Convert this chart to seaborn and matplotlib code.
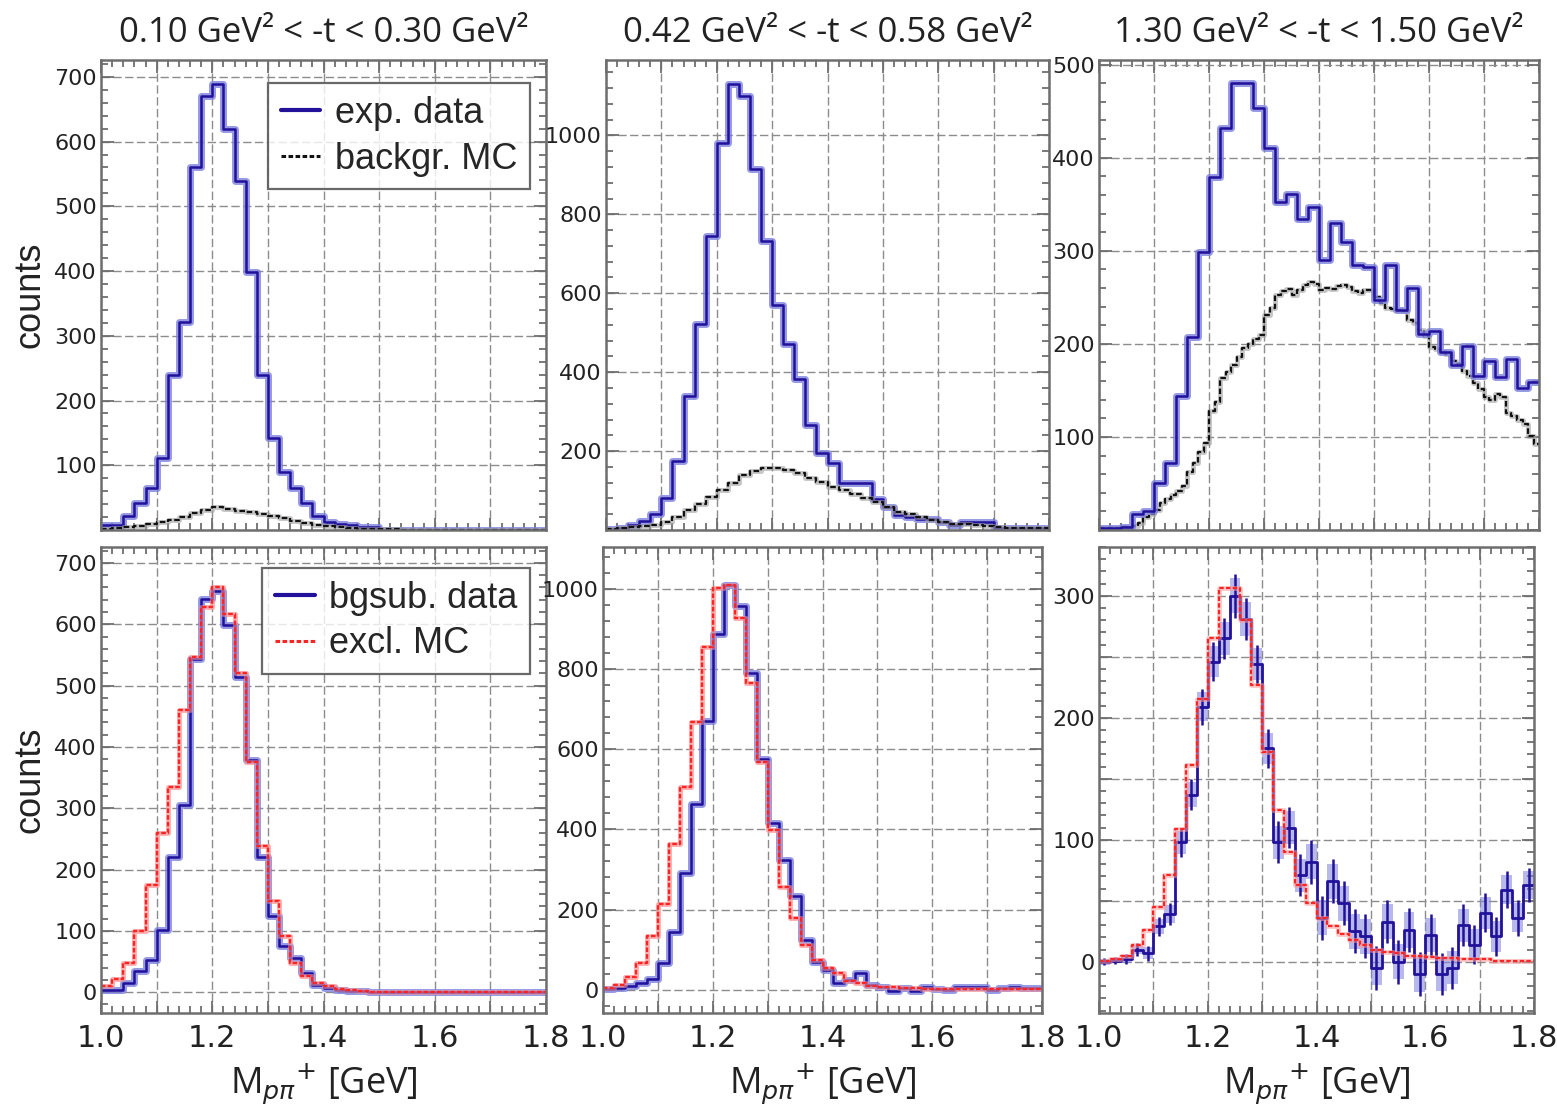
import numpy as np
import matplotlib
matplotlib.use("Agg")
import matplotlib.pyplot as plt
import seaborn as sns
from matplotlib.ticker import MultipleLocator, FuncFormatter
from matplotlib.lines import Line2D

sns.set_theme(style="white")
plt.rcParams['font.family'] = ['DejaVu Sans']
plt.rcParams['axes.unicode_minus'] = False

# ---------------- data ----------------
titles = ["0.10 GeV\u00b2 < -t < 0.30 GeV\u00b2",
          "0.42 GeV\u00b2 < -t < 0.58 GeV\u00b2",
          "1.30 GeV\u00b2 < -t < 1.50 GeV\u00b2"]
xtick_labels = ["1.0", "1.2", "1.4", "1.6", "1.8"]
xlabel = r"M$_{p\pi}$$^{+}$ [GeV]"
ylabel = "counts"
legend_top = ["exp. data", "backgr. MC"]
legend_bottom = ["bgsub. data", "excl. MC"]

edges02 = np.round(np.linspace(1.0, 1.8, 41), 3)
edges01 = np.round(np.linspace(1.0, 1.8, 81), 3)

# top row: experimental data (0.02 GeV bins) and background MC
tl_exp = [7, 7, 22, 42, 65, 111, 240, 322, 560, 671, 689, 619, 539, 399, 240, 142, 90, 65, 42, 21,
          13, 9, 7, 5, 4, 0, 0, 0, 0, 0, 0, 0, 0, 0, 0, 0, 0, 0, 0, 0]
tl_bg = [2, 3, 4, 6, 9, 12, 16, 20, 26, 31, 35, 33, 30, 28, 24, 21, 18, 14, 11, 8,
         6, 4, 3, 2, 2, 1, 1, 0, 0, 0, 0, 0, 0, 0, 0, 0, 0, 0, 0, 0]
tm_exp = [3, 6, 12, 22, 40, 82, 175, 340, 522, 745, 980, 1130, 1100, 916, 732, 571, 472, 382, 266, 194,
          170, 119, 118, 118, 78, 58, 37, 33, 29, 29, 20, 12, 20, 20, 20, 6, 5, 5, 5, 5]
tm_bg = [3, 5, 8, 10, 12, 20, 33, 50, 67, 84, 101, 120, 139, 150, 156, 158, 152, 145, 133, 122,
         109, 101, 91, 82, 71, 58, 46, 40, 33, 26, 20, 16, 14, 12, 9, 8, 6, 5, 4, 4]
tr_exp = [2, 2, 3, 17, 20, 51, 72, 144, 207, 299, 379, 432, 480, 480, 453, 410, 352, 361, 334, 347,
          290, 330, 309, 285, 283, 247, 285, 236, 260, 211, 214, 191, 177, 198, 166, 182, 164, 184, 153, 159]
tr_bg = [2, 2, 2, 2, 3, 3, 4, 7, 14, 17, 22, 29, 33, 38, 42, 47, 62, 72, 84, 94,
         128, 138, 163, 170, 177, 186, 196, 200, 205, 210, 231, 238, 252, 257, 259, 252, 258, 263, 266, 264,
         258, 260, 259, 262, 263, 261, 257, 255, 258, 258, 250, 244, 239, 237, 236, 235, 226, 222, 215, 208,
         197, 194, 191, 189, 182, 178, 171, 166, 158, 152, 143, 140, 146, 143, 126, 122, 118, 114, 101, 92]

# bottom row: background-subtracted data and exclusive MC (0.02 GeV bins)
bl_exp = [4, 4, 15, 34, 53, 102, 221, 305, 544, 642, 655, 598, 514, 379, 221, 124, 75, 56, 31, 12,
          7, 4, 2, 2, 1, 0, 0, 0, 0, 0, 0, 0, 0, 0, 0, 0, 0, 0, 0, 0]
bl_mc = [10, 21, 48, 99, 175, 259, 335, 460, 547, 628, 661, 617, 520, 376, 238, 148, 91, 48, 26, 15,
         10, 5, 3, 2, 1, 0, 0, 0, 0, 0, 0, 0, 0, 0, 0, 0, 0, 0, 0, 0]
bm_exp = [2, 4, 10, 17, 27, 66, 145, 290, 464, 671, 886, 1010, 957, 791, 576, 416, 323, 234, 124, 70,
          50, 18, 25, 41, 12, 8, -4, 4, -4, 8, 2, 0, 7, 7, 6, 0, 4, 7, 4, 4]
bm_mc = [4, 12, 33, 66, 133, 215, 364, 505, 667, 855, 1002, 1010, 928, 766, 567, 398, 257, 178, 112, 75,
         54, 41, 21, 17, 10, 8, 7, 4, 4, 2, 2, 2, 1, 1, 1, 1, 1, 1, 1, 1]
br_exp = [0, 1, 2, 10, 7, 29, 39, 98, 137, 209, 246, 265, 300, 281, 244, 175, 98, 110, 71, 82,
          36, 66, 48, 25, 21, -5, 33, 0, 26, -10, 22, -10, -5, 30, 14, 40, 21, 59, 36, 63]
br_err = [3, 3, 4, 5, 6, 8, 9, 12, 13, 15, 16, 17, 18, 17, 16, 16, 17, 17, 17, 18,
          18, 18, 18, 18, 18, 18, 18, 18, 18, 18, 17, 17, 17, 17, 16, 16, 16, 15, 15, 14]
br_mc = [1, 2, 5, 14, 26, 45, 71, 109, 161, 215, 265, 306, 306, 280, 227, 172, 124, 90, 63, 48,
         36, 29, 23, 18, 14, 10, 8, 7, 5, 5, 4, 3, 3, 2, 2, 2, 1, 1, 1, 1]

# ---------------- style ----------------
DARK = '#22119a'
LIGHT = '#7c80dc'
RED = '#ff2424'
LRED = '#ff9c9c'
BLACK = '#111111'
GREY = '#8c8c8c'
SPINE = '#6e6e6e'
TXT = '#222222'

W, H = 1557, 1116
fig = plt.figure(figsize=(W / 100, H / 100), dpi=100)


def box(l, t, r, b):
    return [l / W, 1 - b / H, (r - l) / W, (b - t) / H]


pos = {
    'tl': box(101, 60, 546, 530), 'tm': box(606, 60, 1049, 530), 'tr': box(1099, 60, 1539, 530),
    'bl': box(101, 547, 546, 1013), 'bm': box(603, 547, 1042, 1013), 'br': box(1099, 547, 1534, 1013),
}
axs = {k: fig.add_axes(v) for k, v in pos.items()}


def step(ax, edges, vals, **kw):
    y = np.append(np.asarray(vals, float), vals[-1])
    sns.lineplot(x=edges, y=y, drawstyle='steps-post', ax=ax, estimator=None,
                 sort=False, legend=False, **kw)


def data_line(ax, vals):
    step(ax, edges02, vals, color=LIGHT, linewidth=5, alpha=0.8)
    step(ax, edges02, vals, color=DARK, linewidth=1.8)


def bg_line(ax, edges, vals):
    step(ax, edges, vals, color='#a0a0a0', linewidth=3.5, alpha=0.6)
    step(ax, edges, vals, color=BLACK, linewidth=1.6, linestyle=(0, (2.5, 1.2)))


def mc_line(ax, vals):
    step(ax, edges02, vals, color=LRED, linewidth=3.5, alpha=0.55)
    step(ax, edges02, vals, color=RED, linewidth=1.6, linestyle=(0, (2.0, 1.0)))


xlab_set = set(xtick_labels)


def xfmt(v, p):
    s = f'{v:.1f}'
    return s if s in xlab_set else ''


def style_axes(ax, ylim, ymaj, ymin, top, label_every=None):
    ax.set_xlim(1.0, 1.8)
    ax.set_ylim(*ylim)
    ax.set_facecolor('white')
    for s in ax.spines.values():
        s.set_color(SPINE)
        s.set_linewidth(1.8)
    ax.xaxis.set_major_locator(MultipleLocator(0.1))
    ax.xaxis.set_minor_locator(MultipleLocator(0.02))
    ax.yaxis.set_major_locator(MultipleLocator(ymaj))
    ax.yaxis.set_minor_locator(MultipleLocator(ymin))
    ax.tick_params(which='both', direction='in', top=True, right=True, bottom=True, left=True,
                   color=SPINE, width=1.3)
    ax.tick_params(which='major', length=9)
    ax.tick_params(which='minor', length=5)
    ax.tick_params(axis='y', labelsize=16, pad=3, labelcolor=TXT)
    ax.tick_params(axis='x', labelsize=22, pad=8, labelcolor=TXT)
    ax.grid(True, which='major', linestyle=(0, (6, 2.5)), color=GREY, linewidth=1.0)
    ax.set_axisbelow(True)
    le = label_every if label_every else ymaj

    def fmt(v, p):
        if top and abs(v) < 1e-9:
            return ''
        if abs(round(v / le) * le - v) > 1e-6:
            return ''
        return f'{v:.0f}'
    ax.yaxis.set_major_formatter(FuncFormatter(fmt))
    if top:
        ax.xaxis.set_major_formatter(FuncFormatter(lambda v, p: ''))
    else:
        ax.xaxis.set_major_formatter(FuncFormatter(xfmt))
        ax.set_xlabel(xlabel, fontsize=26, family=['Open Sans', 'DejaVu Sans'],
                      color=TXT, labelpad=6)
    ax.set_ylabel('')


# top row
data_line(axs['tl'], tl_exp)
bg_line(axs['tl'], edges02, tl_bg)
data_line(axs['tm'], tm_exp)
bg_line(axs['tm'], edges02, tm_bg)
bg_line(axs['tr'], edges01, tr_bg)
data_line(axs['tr'], tr_exp)

# bottom row
mc_line(axs['bl'], bl_mc)
data_line(axs['bl'], bl_exp)
mc_line(axs['bl'], bl_mc)
mc_line(axs['bm'], bm_mc)
data_line(axs['bm'], bm_exp)
mc_line(axs['bm'], bm_mc)

ax = axs['br']
centers = (edges02[:-1] + edges02[1:]) / 2
lo = np.array(br_exp, float) - np.array(br_err, float) * 0.8
hi = np.array(br_exp, float) + np.array(br_err, float) * 0.8
ax.fill_between(edges02, np.append(lo, lo[-1]), np.append(hi, hi[-1]), step='post',
                color=LIGHT, alpha=0.55, linewidth=0)
step(ax, edges02, br_exp, color=DARK, linewidth=2.0)
ax.errorbar(centers, br_exp, yerr=br_err, fmt='none', ecolor=DARK, elinewidth=1.8, capsize=0)
mc_line(ax, br_mc)

style_axes(axs['tl'], (0, 726), 100, 20, True)
style_axes(axs['tm'], (0, 1191), 200, 40, True)
style_axes(axs['tr'], (0, 505), 100, 20, True)
style_axes(axs['bl'], (-34, 726), 100, 20, False)
style_axes(axs['bm'], (-58, 1104), 200, 40, False)
style_axes(axs['br'], (-42, 340), 50, 10, False, label_every=100)

# legends
leg_kw = dict(loc='upper right', frameon=True, fancybox=False, borderaxespad=0,
              handlelength=1.1, handletextpad=0.4, labelspacing=0.3, borderpad=0.35,
              prop={'family': ['Liberation Sans', 'DejaVu Sans'], 'size': 26})
h_top = [Line2D([], [], color=DARK, lw=3),
         Line2D([], [], color=BLACK, lw=2.2, linestyle=(0, (1.5, 0.8)))]
lg = axs['tl'].legend(h_top, legend_top, bbox_to_anchor=(0.964, 0.951), **leg_kw)
lg.get_frame().set_edgecolor('#444444')
lg.get_frame().set_linewidth(1.6)
h_bot = [Line2D([], [], color=DARK, lw=3),
         Line2D([], [], color=RED, lw=2.2, linestyle=(0, (1.5, 0.8)))]
lg = axs['bl'].legend(h_bot, legend_bottom, bbox_to_anchor=(0.964, 0.955), **leg_kw)
lg.get_frame().set_edgecolor('#444444')
lg.get_frame().set_linewidth(1.6)

# titles and y labels
for k, t in zip(['tl', 'tm', 'tr'], titles):
    p = pos[k]
    fig.text(p[0] + p[2] / 2, 1 - 33 / H, t, ha='center', va='center', fontsize=25,
             family=['Open Sans', 'DejaVu Sans'], color=TXT)
for k in ['tl', 'bl']:
    p = pos[k]
    fig.text(30 / W, p[1] + p[3] / 2, ylabel, rotation=90, ha='center', va='center',
             fontsize=26, family=['Liberation Sans', 'DejaVu Sans'], color=TXT)

fig.savefig('out.png', dpi=100, facecolor='white')
